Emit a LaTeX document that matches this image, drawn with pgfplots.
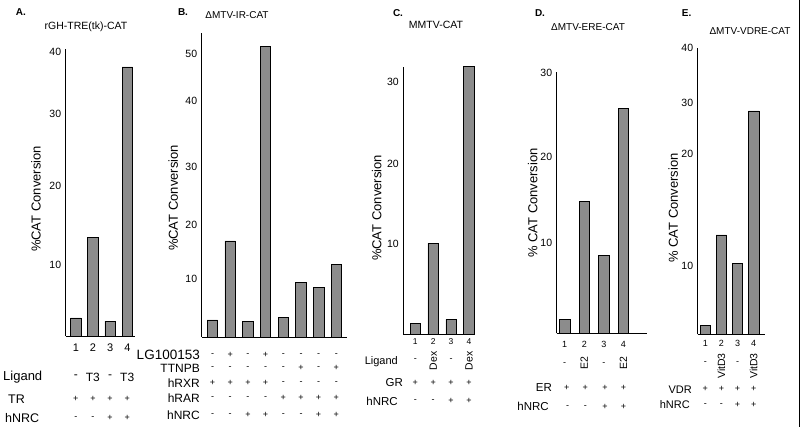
\documentclass[border=0pt]{standalone}
\usepackage{pgfplots}
\pgfplotsset{compat=1.18}
\usepackage{fontspec}
\setmainfont{Liberation Sans}
\definecolor{barcol}{RGB}{140,140,140}
\newcommand\tl[4][]{\node[inner sep=0pt,#1] at ({#2pt},{(427-#3)*1pt}) {#4};}
\newcommand\sg[3][\fontsize{9}{9}\selectfont]{\foreach \xx/\ss in {#3} {\node[inner sep=0pt,font=#1] at ({\xx pt},{(427-#2)*1pt}) {\ss};}}
\pgfplotsset{
  panel/.style={
    scale only axis, anchor=south west, clip=false,
    axis x line*=bottom, axis y line*=left,
    axis line style={line width=0.8pt,-},
    major tick length=0pt, ybar, bar width=10.5pt,
    ymin=0,
    yticklabel style={font=\fontsize{10.5}{11}\selectfont, xshift=-1pt},
    xticklabel style={font=\fontsize{10.5}{11}\selectfont},
  },
  bars/.style={ybar, fill=barcol, draw=black, line width=0.7pt},
}
\begin{document}
\begin{tikzpicture}
\path[use as bounding box] (0,0) rectangle (800pt,427pt);
% ---------------- A ----------------
\begin{axis}[panel, at={(65.7pt,91pt)}, width=69.5pt, height=287pt,
  xmin=0.41, xmax=4.455, ymax=40.42,
  ytick={10.0,21.13,31.27,40}, yticklabels={10,20,30,40},
  xtick={1,2,3,4}, xticklabels={1,2,3,4},
  xticklabel style={font=\fontsize{11}{11}\selectfont, yshift=-4pt}]
\addplot[bars] coordinates {(1,2.54) (2,13.94) (3,2.11) (4,37.89)};
\end{axis}
\tl[font=\bfseries\fontsize{10}{10}\selectfont]{21}{12}{A.}
\tl[font=\fontsize{10.5}{10.5}\selectfont]{86}{27}{rGH-TRE(tk)-CAT}
\tl[rotate=90,font=\fontsize{13}{13}\selectfont]{36}{199}{\%CAT Conversion}
\tl[anchor=west,font=\fontsize{13}{13}\selectfont]{3}{377}{Ligand}
\tl[anchor=west,font=\fontsize{12.5}{12.5}\selectfont]{8}{399}{TR}
\tl[anchor=west,font=\fontsize{12.5}{12.5}\selectfont]{5}{418}{hNRC}
\sg[\fontsize{12}{12}\selectfont]{377}{75.8/-, 92.9/T3, 110.1/-, 127.2/T3}
\sg{399}{75.8/+, 92.9/+, 110.1/+, 127.2/+}
\sg{418}{75.8/-, 92.9/-, 110.1/+, 127.2/+}
% ---------------- B ----------------
\begin{axis}[panel, at={(201.7pt,90pt)}, width=145.3pt, height=304pt,
  xmin=0.39, xmax=8.60, ymax=53.77,
  ytick={10.21,19.81,30.12,41.74,50}, yticklabels={10,20,30,40,50},
  xtick=\empty]
\addplot[bars] coordinates {(1,3.01) (2,16.98) (3,2.71) (4,51.35) (5,3.48) (6,9.60) (7,8.72) (8,12.86)};
\end{axis}
\tl[font=\bfseries\fontsize{10}{10}\selectfont]{183}{12}{B.}
\tl[font=\fontsize{10}{10}\selectfont]{237}{15}{ΔMTV-IR-CAT}
\tl[rotate=90,font=\fontsize{13}{13}\selectfont]{173.3}{198}{\%CAT Conversion}
\tl[anchor=east,font=\fontsize{13.5}{13.5}\selectfont]{200}{355}{LG100153}
\tl[anchor=east,font=\fontsize{12}{12}\selectfont]{200}{368}{TTNPB}
\tl[anchor=east,font=\fontsize{12}{12}\selectfont]{200}{383}{hRXR}
\tl[anchor=east,font=\fontsize{12}{12}\selectfont]{200}{398}{hRAR}
\tl[anchor=east,font=\fontsize{12}{12}\selectfont]{200}{415}{hNRC}
\sg{355}{212.5/-, 230.2/+, 247.9/-, 265.6/+, 283.3/-, 301.0/-, 318.6/-, 336.3/-}
\sg{368}{212.5/-, 230.2/-, 247.9/-, 265.6/-, 283.3/-, 301.0/+, 318.6/-, 336.3/+}
\sg{383}{212.5/+, 230.2/+, 247.9/+, 265.6/+, 283.3/-, 301.0/-, 318.6/-, 336.3/-}
\sg{398}{212.5/-, 230.2/-, 247.9/-, 265.6/-, 283.3/+, 301.0/+, 318.6/+, 336.3/+}
\sg{415}{212.5/-, 230.2/-, 247.9/+, 265.6/+, 283.3/-, 301.0/-, 318.6/+, 336.3/+}
% ---------------- C ----------------
\begin{axis}[panel, at={(403.3pt,93pt)}, width=71.7pt, height=267.3pt,
  xmin=0.33, xmax=4.335, ymax=31.86,
  ytick={10.73,20.26,30}, yticklabels={10,20,30},
  xtick={1,2,3,4}, xticklabels={1,2,3,4},
  xticklabel style={font=\fontsize{8.5}{8.5}\selectfont, yshift=-1pt}]
\addplot[bars] coordinates {(1,1.28) (2,10.81) (3,1.75) (4,31.86)};
\end{axis}
\tl[font=\bfseries\fontsize{10}{10}\selectfont]{398}{13}{C.}
\tl[font=\fontsize{10.5}{10.5}\selectfont]{436}{25}{MMTV-CAT}
\tl[rotate=90,font=\fontsize{13}{13}\selectfont]{376.7}{208}{\%CAT Conversion}
\tl[anchor=east,font=\fontsize{11}{11}\selectfont]{398}{361.7}{Ligand}
\tl[anchor=east,font=\fontsize{11.5}{11.5}\selectfont]{403}{383}{GR}
\tl[anchor=east,font=\fontsize{11.5}{11.5}\selectfont]{398}{401}{hNRC}
\sg{360}{415.3/-, 451.1/-}
\foreach \xx in {433.2,469.0} {\tl[rotate=90,font=\fontsize{10.5}{10.5}\selectfont]{\xx}{361}{Dex}}
\sg{383}{415.3/+, 433.2/+, 451.1/+, 469.0/+}
\sg{401}{415.3/-, 433.2/-, 451.1/+, 469.0/+}
% ---------------- D ----------------
\begin{axis}[panel, at={(556.7pt,93.7pt)}, width=90.3pt, height=261.6pt,
  xmin=0.59, xmax=5.2, ymax=30.18,
  ytick={10.38,20.31,30}, yticklabels={10,20,30},
  xtick={1,2,3,4}, xticklabels={1,2,3,4},
  xticklabel style={font=\fontsize{9}{9}\selectfont, yshift=-4pt}]
\addplot[bars] coordinates {(1,1.62) (2,15.26) (3,9.03) (4,25.96)};
\end{axis}
\tl[font=\bfseries\fontsize{10}{10}\selectfont]{540}{12.7}{D.}
\tl[font=\fontsize{10}{10}\selectfont]{588}{26.7}{ΔMTV-ERE-CAT}
\tl[rotate=90,font=\fontsize{13}{13}\selectfont]{532.7}{203}{\% CAT Conversion}
\tl[anchor=east,font=\fontsize{11.5}{11.5}\selectfont]{552}{387.7}{ER}
\tl[anchor=east,font=\fontsize{11.5}{11.5}\selectfont]{549}{406.7}{hNRC}
\sg{364}{564.7/-, 603.9/-}
\foreach \xx in {584.3,623.5} {\tl[rotate=90,font=\fontsize{10.5}{10.5}\selectfont]{\xx}{363}{E2}}
\sg{387.7}{566.7/+, 585.3/+, 604.9/+, 623.5/+}
\sg{406.7}{567.7/-, 585.3/-, 604.9/+, 623.5/+}
% ---------------- E ----------------
\begin{axis}[panel, at={(697.7pt,92.7pt)}, width=67.3pt, height=286pt,
  xmin=0.53, xmax=4.70, ymax=40,
  ytick={9.59,25.17,32.31,40}, yticklabels={10,20,30,40},
  xtick={1,2,3,4}, xticklabels={1,2,3,4},
  xticklabel style={font=\fontsize{9}{9}\selectfont, yshift=-2.5pt}]
\addplot[bars] coordinates {(1,1.30) (2,13.89) (3,9.93) (4,31.23)};
\end{axis}
\tl[font=\bfseries\fontsize{10}{10}\selectfont]{686.7}{13.3}{E.}
\tl[font=\fontsize{10}{10}\selectfont]{750}{30.7}{ΔMTV-VDRE-CAT}
\tl[rotate=90,font=\fontsize{13}{13}\selectfont]{673.3}{208}{\% CAT Conversion}
\tl[anchor=east,font=\fontsize{11}{11}\selectfont]{692}{389.3}{VDR}
\tl[anchor=east,font=\fontsize{11}{11}\selectfont]{690}{405}{hNRC}
\sg{363}{705.3/-, 737.6/-}
\foreach \xx in {721.4,753.7} {\tl[rotate=90,font=\fontsize{10.5}{10.5}\selectfont]{\xx}{366}{VitD3}}
\sg{389.3}{705.3/+, 721.4/+, 737.6/+, 753.7/+}
\sg{405}{705.3/-, 721.4/-, 737.6/+, 753.7/+}
\draw[line width=1pt] (799.3pt,0pt) -- (799.3pt,427pt);
\end{tikzpicture}
\end{document}
